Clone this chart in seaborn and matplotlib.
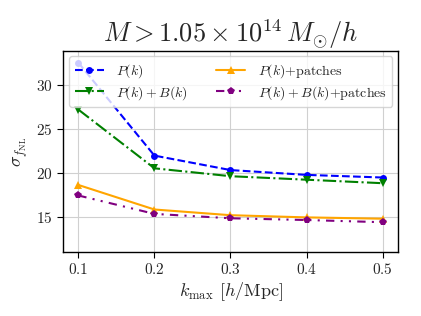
import matplotlib
matplotlib.use("Agg")
import matplotlib.pyplot as plt
import seaborn as sns

k_max = [0.1, 0.2, 0.3, 0.4, 0.5]
sigma_pk = [32.6, 22.0, 20.35, 19.8, 19.5]
sigma_pk_bk = [27.25, 20.55, 19.65, 19.25, 18.85]
sigma_pk_patches = [18.65, 15.85, 15.2, 14.95, 14.8]
sigma_pk_bk_patches = [17.45, 15.35, 14.85, 14.65, 14.4]

sns.set_style("whitegrid", {"axes.edgecolor": "black", "xtick.bottom": True,
                            "ytick.left": True, "grid.color": "#d0d0d0"})
plt.rcParams["font.family"] = "serif"
plt.rcParams["font.serif"] = ["cmr10", "DejaVu Serif"]
plt.rcParams["mathtext.fontset"] = "cm"
plt.rcParams["axes.unicode_minus"] = False
plt.rcParams["axes.formatter.use_mathtext"] = True

fig = plt.figure(figsize=(4.21, 3.16), dpi=100)
ax = fig.add_axes([0.150, 0.2025, 0.795, 0.6365])

sns.lineplot(x=k_max, y=sigma_pk, ax=ax, color="blue", linestyle="--",
             marker="o", markersize=5, markeredgewidth=0, label=r"$P(k)$")
sns.lineplot(x=k_max, y=sigma_pk_bk, ax=ax, color="green", linestyle="-.",
             marker="v", markersize=6, markeredgewidth=0, label=r"$P(k)+B(k)$")
sns.lineplot(x=k_max, y=sigma_pk_patches, ax=ax, color="orange", linestyle="-",
             marker="^", markersize=6, markeredgewidth=0, label=r"$P(k)$+patches")
sns.lineplot(x=k_max, y=sigma_pk_bk_patches, ax=ax, color="purple",
             linestyle=(0, (4, 3, 1, 3, 1, 3)), marker="p", markersize=6,
             markeredgewidth=0, label=r"$P(k)+B(k)$+patches")

ax.set_xlim(0.08, 0.52)
ax.set_ylim(11.0, 33.95)
ax.set_xticks(k_max)
ax.set_yticks([15, 20, 25, 30])
ax.tick_params(labelsize=11, length=4, width=0.8, color="black")
for s in ax.spines.values():
    s.set_linewidth(1.0)

ax.set_title(r"$M > 1.05\times10^{14}\,M_{\odot}/h$", fontsize=19, pad=4)
ax.set_xlabel(r"$k_{\rm max}$ [$h$/Mpc]", fontsize=13, labelpad=2)
ax.set_ylabel(r"$\sigma_{f_{\rm NL}}$", fontsize=13, labelpad=4)
ax.legend(ncol=2, loc="upper right", fontsize=10, handlelength=2.1,
          columnspacing=2.0, borderaxespad=0.4, labelspacing=0.3,
          handletextpad=0.9)

fig.savefig("out.png", dpi=100)
